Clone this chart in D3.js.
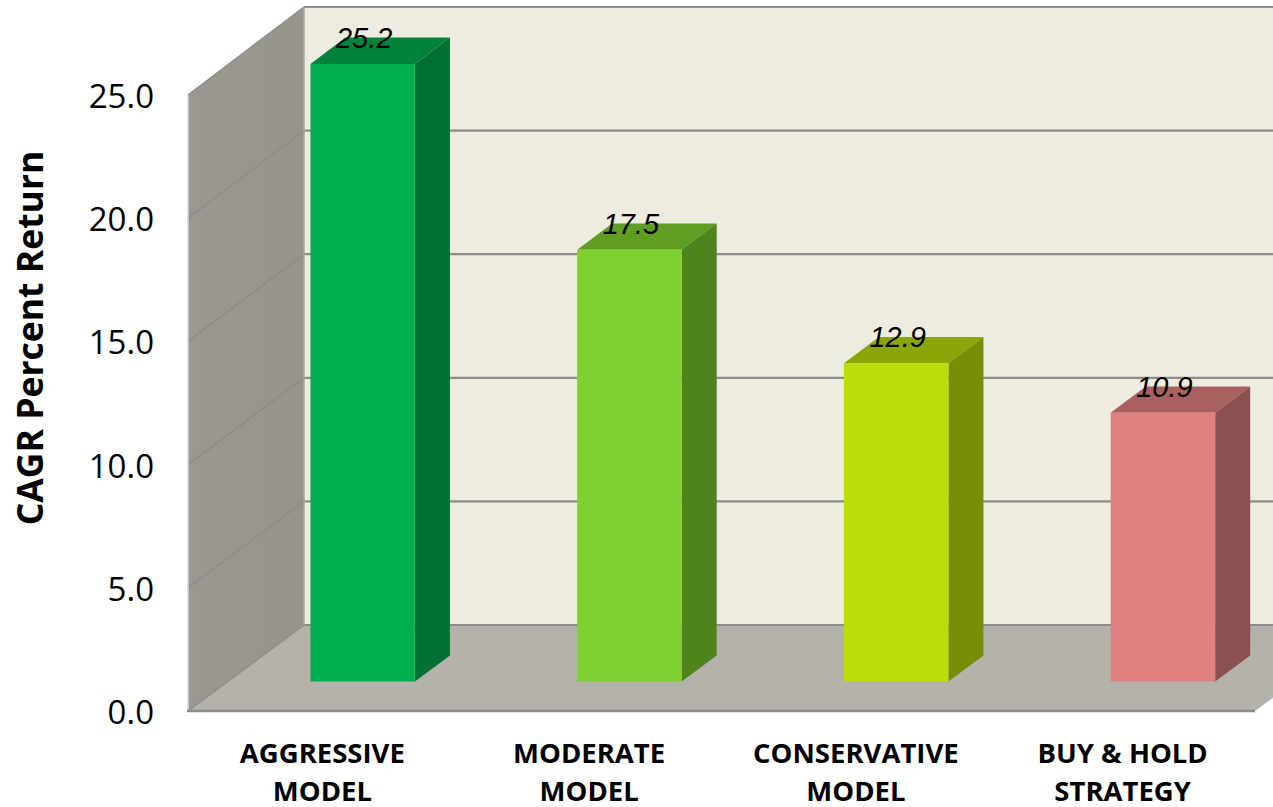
<!DOCTYPE html>
<html>
<head>
<meta charset="utf-8">
<script src="https://cdn.jsdelivr.net/npm/d3@7"></script>
<style>
  html, body { margin: 0; padding: 0; background: #fff; overflow: hidden; }
  svg { display: block; }
</style>
</head>
<body>
<div id="chart"></div>
<script>
// values
var categories = [["AGGRESSIVE", "MODEL"], ["MODERATE", "MODEL"], ["CONSERVATIVE", "MODEL"], ["BUY & HOLD", "STRATEGY"]];
var barValues = [25.03, 17.5, 12.9, 10.9];
var barLabels = ["25.2", "17.5", "12.9", "10.9"];
var yTicks = [0, 5, 10, 15, 20, 25];
var frontColors = ["#00b050", "#7ed22f", "#b9de0b", "#e08080"];
var topColors = ["#00843c", "#5f9e23", "#8ba608", "#a96060"];
var sideColors = ["#007033", "#4f831d", "#778e06", "#8b5050"];

var width = 1273, height = 807;

var svg = d3.select("#chart").append("svg")
  .attr("width", width)
  .attr("height", height);

var x = d3.scaleBand().domain(d3.range(4)).range([188, 1255]);
var y = d3.scaleLinear().domain([0, 25]).range([711, 95]);
// back wall has a slightly taller scale than the front edge
var yBack = d3.scaleLinear().domain([0, 25]).range([625, 7]);
var depthX = 116;

// z goes 0 (front) to 1 (back wall), shifts up and to the right
function pt(px, val, z) {
  return [px + z * depthX, y(val) + z * (yBack(val) - y(val))];
}
function poly(points) {
  return "M" + points.map(p => p.join(",")).join("L") + "Z";
}

var x0 = x.range()[0], x1 = x.range()[1];
var gridColor = "#8c8c8a";

// back wall
svg.append("path")
  .attr("d", poly([pt(x0, 0, 1), pt(x0, 25, 1), pt(x1, 25, 1), pt(x1, 0, 1)]))
  .attr("fill", "#eeece1");

// left wall
var wallGrad = svg.append("defs").append("linearGradient")
  .attr("id", "wall").attr("x1", 0).attr("x2", 1).attr("y1", 0).attr("y2", 0);
wallGrad.append("stop").attr("offset", 0).attr("stop-color", "#9a9890");
wallGrad.append("stop").attr("offset", 1).attr("stop-color", "#96948b");

svg.append("path")
  .attr("d", poly([pt(x0, 0, 0), pt(x0, 25, 0), pt(x0, 25, 1), pt(x0, 0, 1)]))
  .attr("fill", "url(#wall)");

// floor
svg.append("path")
  .attr("d", poly([pt(x0, 0, 0), pt(x0, 0, 1), pt(x1, 0, 1), pt(x1, 0, 0)]))
  .attr("fill", "#b5b2ab");

// gridlines on back wall and left wall
svg.selectAll(".gridBack")
  .data(yTicks)
  .join("line")
    .attr("class", "gridBack")
    .attr("x1", pt(x0, 0, 1)[0])
    .attr("x2", pt(x1, 0, 1)[0])
    .attr("y1", d => pt(x0, d, 1)[1])
    .attr("y2", d => pt(x0, d, 1)[1])
    .attr("stroke", gridColor)
    .attr("stroke-width", 2.2);

svg.selectAll(".gridSide")
  .data(yTicks)
  .join("line")
    .attr("class", "gridSide")
    .attr("x1", pt(x0, 0, 0)[0])
    .attr("x2", pt(x0, 0, 1)[0])
    .attr("y1", d => pt(x0, d, 0)[1])
    .attr("y2", d => pt(x0, d, 1)[1])
    .attr("stroke", gridColor)
    .attr("stroke-width", 1.5);

// edges of the box
svg.append("line")
  .attr("x1", x0).attr("x2", x0)
  .attr("y1", y(25)).attr("y2", y(0))
  .attr("stroke", "#d9d8d3").attr("stroke-width", 1.5);
svg.append("line")
  .attr("x1", pt(x0, 0, 1)[0]).attr("x2", pt(x0, 0, 1)[0])
  .attr("y1", pt(x0, 25, 1)[1]).attr("y2", pt(x0, 0, 1)[1])
  .attr("stroke", "#a9a8a2").attr("stroke-width", 1.5);
svg.append("line")
  .attr("x1", x0 - 1).attr("x2", x1)
  .attr("y1", y(0)).attr("y2", y(0))
  .attr("stroke", "#8c8c8a").attr("stroke-width", 2.5);

// bars
var barW = 104.5, zFront = 0.343, zBack = 0.645;
var bars = svg.selectAll(".bar")
  .data(barValues)
  .join("g")
    .attr("class", "bar");

function barLeft(i) {
  return x(i) + x.bandwidth() / 2 - barW / 2 + 1.5;
}

bars.append("path")
  .attr("d", (d, i) => {
    var l = barLeft(i), r = l + barW;
    return poly([pt(l, d, zFront), pt(r, d, zFront), pt(r, d, zBack), pt(l, d, zBack)]);
  })
  .attr("fill", (d, i) => topColors[i]);

bars.append("path")
  .attr("d", (d, i) => {
    var r = barLeft(i) + barW;
    return poly([pt(r, 0, zFront), pt(r, d, zFront), pt(r, d, zBack), pt(r, 0, zBack)]);
  })
  .attr("fill", (d, i) => sideColors[i]);

bars.append("path")
  .attr("d", (d, i) => {
    var l = barLeft(i), r = l + barW;
    return poly([pt(l, 0, zFront), pt(l, d, zFront), pt(r, d, zFront), pt(r, 0, zFront)]);
  })
  .attr("fill", (d, i) => frontColors[i]);

// value labels
bars.append("text")
  .attr("x", (d, i) => pt(barLeft(i) + barW / 2, d, zFront)[0] + 1.5)
  .attr("y", (d, i) => pt(0, d, zFront)[1] - 16)
  .attr("text-anchor", "middle")
  .attr("font-family", "Liberation Sans")
  .attr("font-style", "italic")
  .attr("font-size", 29)
  .attr("fill", "#000")
  .text((d, i) => barLabels[i]);

// y axis
var yAxis = svg.append("g")
  .attr("transform", "translate(167,2)")
  .call(d3.axisLeft(y).tickValues(yTicks).tickFormat(d3.format(".1f")).tickSize(0).tickPadding(13));
yAxis.select(".domain").remove();
yAxis.selectAll("text")
  .attr("font-family", "Open Sans")
  .attr("font-size", 33)
  .attr("fill", "#000");

// axis title
svg.append("text")
  .attr("transform", "translate(43,338) rotate(-90)")
  .attr("text-anchor", "middle")
  .attr("font-family", "Open Sans")
  .attr("font-weight", "bold")
  .attr("font-size", 35.5)
  .attr("fill", "#000")
  .text("CAGR Percent Return");

// category labels
var catLabels = svg.selectAll(".cat")
  .data(categories)
  .join("text")
    .attr("class", "cat")
    .attr("text-anchor", "middle")
    .attr("font-family", "Open Sans")
    .attr("font-weight", "bold")
    .attr("font-size", 27.5)
    .attr("fill", "#000");

catLabels.selectAll("tspan")
  .data((d, i) => d.map(t => ({ t: t, i: i })))
  .join("tspan")
    .attr("x", d => x(d.i) + x.bandwidth() / 2 + 1)
    .attr("y", (d, j) => 763 + j * 38)
    .text(d => d.t);
</script>
</body>
</html>
